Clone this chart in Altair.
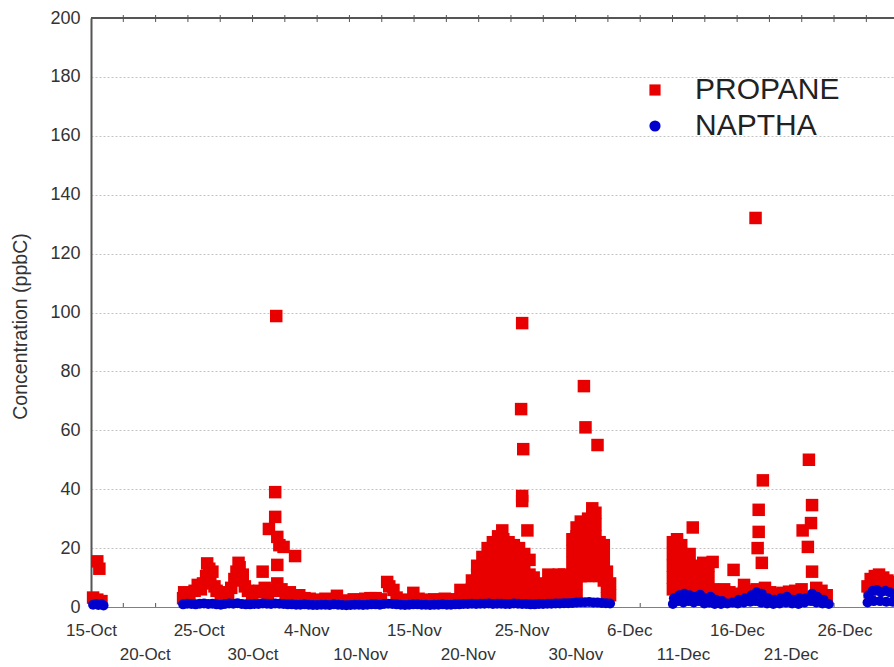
import json
import altair as alt
import pandas as pd

# Hourly concentrations (ppbC); x is days elapsed since 15 Oct.
propane = [
    # 15-16 Oct
    (0.2, 3.2), (0.6, 2.5), (1.0, 2.0), (0.6, 15.5), (0.8, 13.0),
    # 24 Oct - 4 Nov
    (8.8, 3.0), (8.9, 5.0), (9.4, 4.5), (9.9, 5.5), (10.2, 7.5), (10.5, 6.0),
    (10.7, 8.0), (11.0, 10.5), (11.1, 14.8), (11.3, 13.0), (11.4, 9.0),
    (11.6, 12.0), (11.8, 7.0), (12.0, 5.5), (12.4, 4.5), (12.8, 5.0),
    (13.1, 4.0), (13.4, 6.5), (13.7, 9.5), (13.9, 12.0), (14.1, 15.0),
    (14.2, 13.5), (14.3, 9.0), (14.5, 11.0), (14.7, 7.0), (15.0, 5.5),
    (15.4, 4.5), (15.8, 5.0), (16.1, 5.5), (16.4, 12.0), (16.6, 6.5),
    (16.9, 4.5), (17.0, 26.5), (17.2, 5.5), (17.6, 39.0), (17.6, 30.6),
    (17.7, 98.8), (17.7, 5.5), (17.8, 23.8), (17.8, 14.3), (17.8, 8.0),
    (18.0, 21.0), (18.2, 6.0), (18.4, 20.4), (18.6, 4.5), (19.0, 5.0),
    (19.4, 3.5), (19.5, 17.3), (19.9, 4.0),
    # 4 Nov - 20 Nov
    (20.4, 3.0), (20.9, 2.8), (21.4, 2.5), (21.9, 2.3), (22.4, 2.8),
    (22.9, 2.5), (23.5, 3.8), (24.0, 2.2), (24.6, 2.0), (25.1, 2.6),
    (25.7, 2.4), (26.2, 2.8), (26.7, 3.0), (27.2, 3.0), (27.7, 2.6),
    (28.3, 8.5), (28.5, 7.0), (28.9, 5.8), (29.2, 3.2), (29.7, 2.5),
    (30.2, 2.3), (30.8, 4.8), (31.3, 2.8), (31.8, 2.5), (32.3, 2.3),
    (32.8, 2.6), (33.3, 2.4), (33.8, 2.8), (34.3, 2.5), (34.8, 2.6),
    (35.3, 5.8), (35.7, 3.5), (36.1, 3.0),
    # 20 Nov - 27 Nov
    (36.4, 3), (36.4, 6), (36.4, 9),
    (36.9, 3), (36.9, 7), (36.9, 11), (36.9, 14),
    (37.4, 4), (37.4, 8), (37.4, 12), (37.4, 17),
    (37.9, 3), (37.9, 7), (37.9, 11), (37.9, 15), (37.9, 20),
    (38.4, 4), (38.4, 8), (38.4, 12), (38.4, 16), (38.4, 22),
    (38.9, 3), (38.9, 7), (38.9, 11), (38.9, 15), (38.9, 19), (38.9, 24),
    (39.3, 26), (39.4, 4), (39.4, 8), (39.4, 12), (39.4, 20), (39.4, 23),
    (39.9, 3), (39.9, 7), (39.9, 11), (39.9, 15), (39.9, 19), (39.9, 22),
    (40.4, 4), (40.4, 8), (40.4, 12), (40.4, 16), (40.4, 21),
    (40.9, 3), (40.9, 7), (40.9, 11), (40.9, 15), (40.9, 20),
    (41.2, 96.4), (41.1, 67.2), (41.3, 53.6), (41.2, 37.7), (41.2, 36.0),
    (41.4, 4), (41.4, 8), (41.4, 12), (41.4, 18), (41.7, 26),
    (41.9, 3), (41.9, 7), (41.9, 11), (41.9, 16),
    (42.3, 4), (42.3, 7), (42.3, 10),
    (42.7, 3), (42.7, 7), (43.2, 4), (43.2, 8), (43.7, 4), (43.7, 8),
    (43.7, 11), (44.2, 3), (44.2, 7), (44.2, 10), (44.7, 4), (44.7, 8),
    (44.7, 11), (45.2, 4), (45.2, 8), (45.2, 11), (45.6, 3), (45.6, 7),
    (45.6, 10),
    # 30 Nov - 4 Dec
    (46.0, 3), (46.0, 7), (46.0, 11), (46.0, 15), (46.0, 19), (46.0, 23),
    (46.4, 4), (46.4, 8), (46.4, 12), (46.4, 16), (46.4, 20), (46.4, 24), (46.4, 27),
    (46.8, 10.5), (46.8, 14), (46.8, 18), (46.8, 22), (46.8, 26), (46.8, 29),
    (47.1, 11), (47.1, 15), (47.1, 19), (47.1, 23), (47.1, 27), (47.1, 75.0),
    (47.25, 61.0),
    (47.5, 10.5), (47.5, 14), (47.5, 18), (47.5, 22), (47.5, 26), (47.5, 30),
    (47.9, 11), (47.9, 15), (47.9, 19), (47.9, 23), (47.9, 27), (47.9, 31), (47.9, 33.5),
    (48.2, 12), (48.2, 16), (48.2, 20), (48.2, 24), (48.2, 28), (48.2, 32),
    (48.4, 55.0),
    (48.6, 10.5), (48.6, 14), (48.6, 18), (48.6, 22),
    (49.0, 9), (49.0, 13), (49.0, 17), (49.0, 21),
    (49.3, 3), (49.3, 7), (49.3, 12), (49.6, 4), (49.6, 8),
    # 11 Dec - 26 Dec
    (55.6, 6), (55.6, 10), (55.6, 14), (55.6, 18), (55.6, 22),
    (56.0, 7), (56.0, 11), (56.0, 15), (56.0, 19), (56.0, 23),
    (56.4, 6), (56.4, 10), (56.4, 14), (56.4, 18), (56.4, 21),
    (56.8, 7), (56.8, 11), (56.8, 15), (56.8, 17),
    (57.2, 6), (57.2, 10), (57.2, 14), (57.2, 18), (57.5, 27.0),
    (57.6, 7), (57.6, 10), (57.6, 13),
    (58.0, 6), (58.0, 10), (58.0, 14), (58.5, 7), (58.5, 11), (58.5, 15),
    (59.0, 6), (59.0, 10), (59.0, 14), (59.4, 6), (59.4, 15.3),
    (60.0, 5.5), (60.5, 6.0), (60.5, 4.5), (61.0, 5.0), (61.4, 12.6),
    (61.8, 4.5), (62.4, 7.5), (62.4, 5.0), (63.0, 5.5), (63.5, 132.1),
    (63.6, 6.0), (63.7, 20.0), (63.8, 25.5), (63.8, 33.0), (64.1, 15.0),
    (64.2, 43.0), (64.4, 6.5), (64.9, 5.0), (65.5, 4.5), (66.1, 4.8),
    (66.7, 5.2), (67.3, 5.5), (67.9, 6.0), (68.0, 26.0), (68.5, 20.4),
    (68.6, 50.0), (68.8, 28.5), (68.9, 34.6), (68.9, 12.0), (69.3, 6.5),
    (69.8, 5.5), (70.3, 4.0),
    # 29-31 Dec
    (74.2, 7.0), (74.4, 5.0), (74.5, 9.5), (74.9, 10.5), (75.1, 6.0),
    (75.3, 11.0), (75.7, 10.0), (75.9, 6.5), (76.1, 9.0), (76.5, 8.5),
    (76.6, 6.0),
]

naptha = [
    # 15-16 Oct
    (0.2, 0.8), (0.5, 1.0), (0.7, 0.7), (1.0, 0.9), (1.2, 0.5),
    # 24 Oct - 5 Dec
    (8.8, 0.9), (9.2, 1.1), (9.6, 1.0), (10.0, 0.9), (10.4, 1.1), (10.8, 1.2),
    (11.2, 1.0), (11.6, 1.1), (12.0, 0.9), (12.4, 0.8), (12.8, 1.0), (13.2, 1.2),
    (13.6, 1.1), (14.0, 1.3), (14.4, 1.0), (14.8, 0.9), (15.2, 0.9), (15.6, 1.0),
    (16.0, 1.0), (16.4, 1.2), (16.8, 1.1), (17.2, 1.0), (17.6, 1.2), (18.0, 1.1),
    (18.4, 1.0), (18.8, 0.9), (19.2, 0.9), (19.6, 0.8), (20.0, 0.8), (20.4, 0.9),
    (20.8, 0.8), (21.2, 0.7), (21.6, 0.7), (22.0, 0.8), (22.4, 0.8), (22.8, 0.7),
    (23.2, 0.9), (23.6, 0.8), (24.0, 0.7), (24.4, 0.6), (24.8, 0.7), (25.2, 0.8),
    (25.6, 0.8), (26.0, 0.7), (26.4, 0.8), (26.8, 0.9), (27.2, 0.9), (27.6, 0.8),
    (28.0, 1.0), (28.4, 1.1), (28.8, 1.0), (29.2, 0.9), (29.6, 0.8), (30.0, 0.7),
    (30.4, 0.8), (30.8, 0.9), (31.2, 0.9), (31.6, 0.8), (32.0, 0.8), (32.4, 0.7),
    (32.8, 0.8), (33.2, 0.8), (33.6, 0.9), (34.0, 0.8), (34.4, 0.8), (34.8, 0.9),
    (35.2, 0.9), (35.6, 1.0), (36.0, 1.0), (36.4, 1.1), (36.8, 1.0), (37.2, 1.1),
    (37.6, 1.1), (38.0, 1.2), (38.4, 1.0), (38.8, 1.1), (39.2, 1.1), (39.6, 1.0),
    (40.0, 1.0), (40.4, 1.2), (40.8, 1.1), (41.2, 1.0), (41.6, 1.0), (42.0, 0.9),
    (42.4, 0.9), (42.8, 1.0), (43.2, 1.0), (43.6, 1.1), (44.0, 1.1), (44.4, 1.2),
    (44.8, 1.2), (45.2, 1.3), (45.6, 1.3), (46.0, 1.4), (46.4, 1.5), (46.8, 1.6),
    (47.2, 1.6), (47.6, 1.7), (48.0, 1.5), (48.4, 1.5), (48.8, 1.4), (49.2, 1.3),
    (49.6, 1.2),
    # 11 Dec - 26 Dec
    (55.6, 1.0), (55.7, 3.0), (56.1, 2.0), (56.2, 4.0), (56.6, 1.5), (56.7, 4.5),
    (57.1, 2.0), (57.2, 4.0), (57.6, 1.5), (57.7, 3.5), (58.1, 2.0), (58.2, 4.2),
    (58.6, 1.2), (58.7, 3.0), (59.1, 1.5), (59.2, 3.5), (59.6, 1.0), (59.7, 2.5),
    (60.2, 1.0), (60.3, 2.0), (60.8, 1.2), (61.3, 1.5), (61.8, 1.2), (61.9, 2.5),
    (62.4, 1.5), (62.5, 3.0), (63.0, 1.8), (63.1, 4.0), (63.5, 2.0), (63.6, 5.0),
    (64.0, 1.5), (64.1, 4.5), (64.6, 1.2), (64.7, 3.0), (65.2, 1.0), (65.3, 2.5),
    (65.8, 1.2), (65.9, 3.0), (66.4, 1.5), (66.5, 3.5), (67.0, 1.2), (67.1, 2.5),
    (67.6, 1.0), (67.7, 3.0), (68.2, 1.5), (68.3, 3.0), (68.8, 2.0), (68.9, 4.5),
    (69.3, 1.5), (69.4, 3.5), (69.9, 1.2), (70.0, 2.5), (70.5, 1.0),
    # 29-31 Dec
    (74.2, 1.5), (74.3, 4.0), (74.7, 5.5), (74.8, 2.0), (75.1, 5.8), (75.4, 2.0),
    (75.5, 5.0), (75.9, 5.5), (76.0, 1.8), (76.3, 5.0), (76.6, 1.8), (76.7, 4.5),
]

series_names = ["PROPANE", "NAPTHA"]
series_colors = ["#e80000", "#0000cc"]
series_shapes = ["square", "circle"]

x_tick_labels = ["15-Oct", "20-Oct", "25-Oct", "30-Oct", "4-Nov", "10-Nov",
                 "15-Nov", "20-Nov", "25-Nov", "30-Nov", "6-Dec", "11-Dec",
                 "16-Dec", "21-Dec", "26-Dec"]
y_ticks = list(range(0, 201, 20))

# axis layout
W, H = 803, 589
X_MAX = 76.73
label_step = 72 / 14
label_pos = [i * label_step for i in range(len(x_tick_labels))]
minor_step = 3.087
minor_pos = [k * minor_step for k in range(1, 25)]

FONT = "Liberation Sans"

df = pd.concat([
    pd.DataFrame(propane, columns=["day", "ppbC"]).assign(series="PROPANE"),
    pd.DataFrame(naptha, columns=["day", "ppbC"]).assign(series="NAPTHA"),
])
ticks_df = pd.DataFrame({"day": minor_pos})

x_scale = alt.Scale(domain=[0, X_MAX], nice=False, zero=False)
y_scale = alt.Scale(domain=[0, 200], nice=False)

L = json.dumps(x_tick_labels)
idx = f"round(datum.value / {label_step})"
label_expr = f"{idx} % 2 == 0 ? [{L}[{idx}], ''] : ['', {L}[{idx}]]"

legend = alt.Legend(
    title=None, orient="none", legendX=549, legendY=57,
    labelFont=FONT, labelFontSize=30, labelColor="#222222",
    symbolSize=125, labelOffset=25, rowPadding=6, padding=0,
    symbolStrokeWidth=0, symbolOpacity=1,
)
color = alt.Color("series:N", scale=alt.Scale(domain=series_names, range=series_colors), legend=legend)
shape = alt.Shape("series:N", scale=alt.Scale(domain=series_names, range=series_shapes), legend=legend)

x_axis = alt.Axis(
    values=label_pos, labelExpr=label_expr, ticks=False, tickSize=0, grid=False,
    domainColor="#808080", domainWidth=1, title=None,
    labelFont=FONT, labelFontSize=17, labelColor="#333333", labelLineHeight=24,
    labelPadding=15, labelAlign="center", labelBaseline="top",
    labelOverlap=False, labelFlush=False, labelBound=False,
)
y_axis = alt.Axis(
    values=y_ticks, ticks=False, tickSize=0, grid=True,
    gridColor="#c4c4c4", gridDash=[2, 2], gridWidth=1,
    domainColor="#555555", domainWidth=2,
    labelFont=FONT, labelFontSize=18, labelColor="#333333", labelPadding=11,
    title="Concentration (ppbC)", titleFont=FONT, titleFontSize=19.5,
    titleFontWeight="normal", titleColor="#333333",
    titleX=-71, titleY=308, titleAngle=270, titleBaseline="middle", titleAlign="center",
)

x_enc = alt.X("day:Q", scale=x_scale, axis=x_axis)
y_enc = alt.Y("ppbC:Q", scale=y_scale, axis=y_axis)

bottom_ticks = alt.Chart(ticks_df).mark_rule(color="#555555", strokeWidth=1).encode(
    x=x_enc, y=alt.value(H), y2=alt.value(H - 4),
)
top_ticks = alt.Chart(ticks_df).mark_rule(color="#555555", strokeWidth=1).encode(
    x=x_enc, y=alt.value(-3), y2=alt.value(4),
)
propane_pts = alt.Chart(df).transform_filter("datum.series == 'PROPANE'").mark_point(
    filled=True, size=156, opacity=1, strokeWidth=0
).encode(x=x_enc, y=y_enc, color=color, shape=shape)
naptha_pts = alt.Chart(df).transform_filter("datum.series == 'NAPTHA'").mark_point(
    filled=True, size=100, opacity=1, strokeWidth=0
).encode(x=x_enc, y=y_enc, color=color, shape=shape)
top_frame = alt.Chart(ticks_df).mark_rule(color="#555555", strokeWidth=2).encode(
    x=alt.value(0), x2=alt.value(W), y=alt.value(0)
)

chart = alt.layer(bottom_ticks, top_ticks, propane_pts, naptha_pts, top_frame).properties(
    width=W, height=H,
    autosize=alt.AutoSizeParams(type="none"),
    padding={"left": 91, "top": 18, "right": 0, "bottom": 59},
).configure_view(stroke=None).configure(background="white")

chart.save("out.html", embed_options={"renderer": "svg", "actions": False})
